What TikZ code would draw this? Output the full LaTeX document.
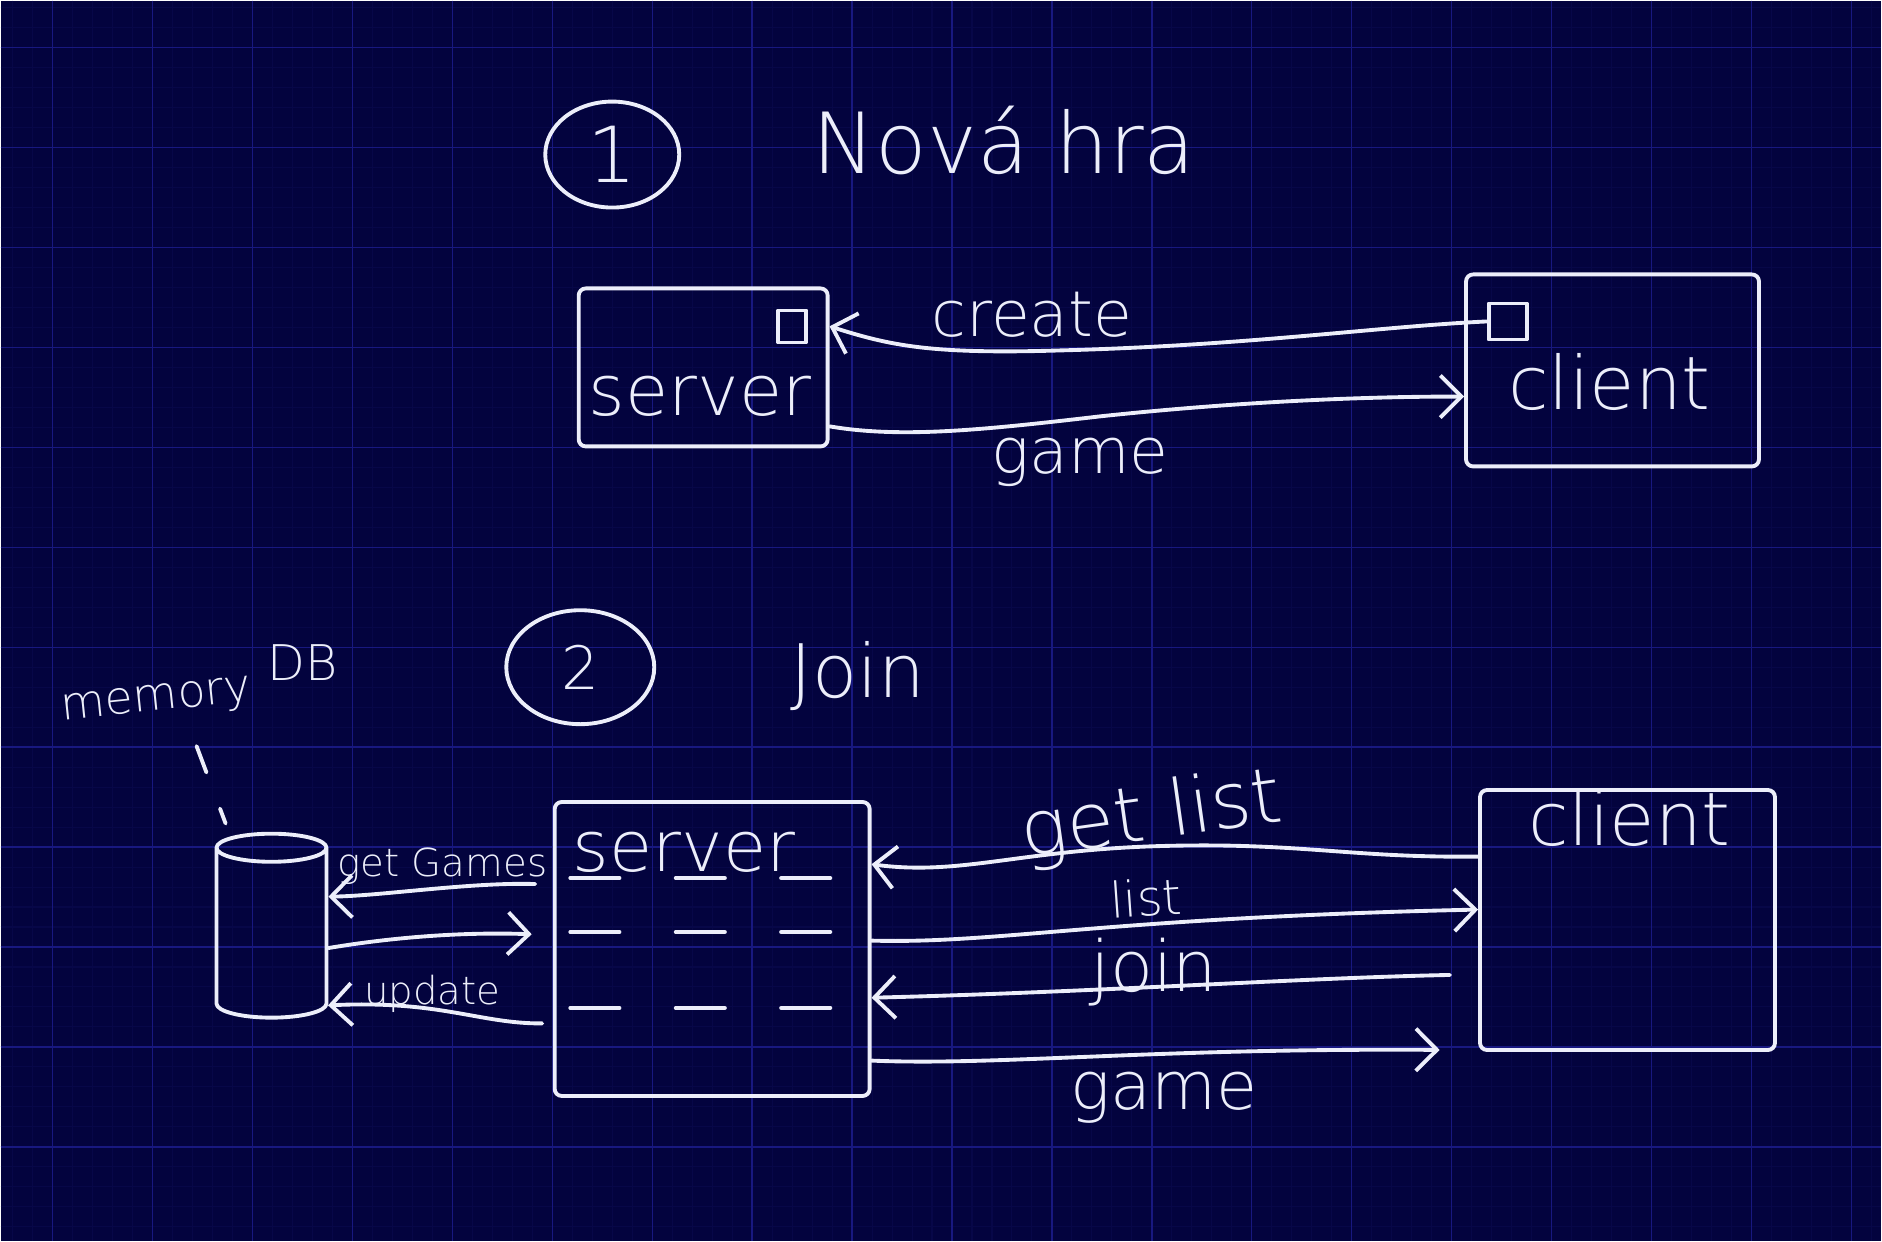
\documentclass[tikz,border=0pt]{standalone}
\usepackage{fontspec}
\setmainfont{DejaVu Sans ExtraLight}
\usetikzlibrary{arrows.meta,shapes.geometric}

\definecolor{board}{RGB}{3,3,62}
\definecolor{gridmajor}{RGB}{24,24,128}
\definecolor{gridminor}{RGB}{7,7,72}
\definecolor{chalk}{RGB}{236,238,250}

\tikzset{
  pen/.style={draw=chalk, line width=1.1pt, line cap=round, line join=round},
  box/.style={pen, rectangle, rounded corners=2pt},
  sq/.style={pen, rectangle, inner sep=0pt},
  lbl/.style={text=chalk, inner sep=0pt, font=\fontsize{#1pt}{#1pt}\selectfont},
  msg/.style={pen, -{Straight Barb[length=6pt,width=12pt]}},
  lane/.style={pen, dash pattern=on 14pt off 16pt},
}

\begin{document}
\begin{tikzpicture}[x=0.01cm, y=-0.01cm]

\fill[board] (0,0) rectangle (1882,1241);
\foreach \gx in {12,32,...,1872} \draw[gridminor, line width=0.3pt] (\gx,0) -- (\gx,1241);
\foreach \gy in {7,27,...,1227} \draw[gridminor, line width=0.3pt] (0,\gy) -- (1882,\gy);
\foreach \gx in {52,152,...,1852} \draw[gridmajor, line width=0.4pt] (\gx,0) -- (\gx,1241);
\foreach \gy in {47,147,...,1147} \draw[gridmajor, line width=0.4pt] (0,\gy) -- (1882,\gy);

\node[pen, ellipse, minimum width=1.34cm, minimum height=1.06cm, lbl=22] (v1) at (612,154) {1};
\node[lbl=24] (v2) at (1004,140) {Nová hra};

\node[box, minimum width=2.49cm, minimum height=1.58cm] (v3) at (703,367) {};
\node[sq, minimum width=0.28cm, minimum height=0.32cm] (v4) at (792,326) {};
\node[lbl=20] (v5) at (700,396) {server};

\node[box, minimum width=2.93cm, minimum height=1.92cm] (v6) at (1613,370) {};
\node[sq, minimum width=0.38cm, minimum height=0.36cm] (v7) at (1508,321) {};
\node[lbl=21] (v8) at (1610,382) {client};

\draw[msg] (v7.west) .. controls (1380,326) and (1250,345) .. (1060,350) .. controls (930,354) and (890,345) .. (v3.18);
\node[lbl=18] (v9) at (1032,314) {create};
\draw[msg] (v3.-25) .. controls (900,438) and (980,430) .. (1100,416) .. controls (1250,400) and (1380,396) .. (v6.190);
\node[lbl=18] (v10) at (1080,462) {game};

\node[pen, ellipse, minimum width=1.48cm, minimum height=1.14cm, lbl=17] (v11) at (580,667) {2};
\node[lbl=21] (v12) at (858,676) {Join};

\node[lbl=13, rotate=6] (v13) at (156,702) {memory};
\node[lbl=14] (v14) at (302,662) {DB};
\node[pen, cylinder, shape border rotate=90, aspect=1.2, minimum width=1.1cm, minimum height=1.84cm] (v15) at (271,938) {};
\coordinate (v16) at (196,746);
\draw[pen, dash pattern=on 8pt off 11pt, shorten >=4pt] (v16) -- (v15.112);

\node[box, minimum width=3.15cm, minimum height=2.94cm] (v17) at (712,949) {};
\node[lbl=20] (v18) at (684,852) {server};
\draw[lane] (570,878) -- (866,878);
\draw[lane] (570,932) -- (866,932);
\draw[lane] (570,1008) -- (866,1008);

\node[box, minimum width=2.95cm, minimum height=2.6cm] (v19) at (1628,920) {};
\node[lbl=21] (v20) at (1630,818) {client};

\draw[msg, shorten <=5pt] (v17.158) .. controls (470,882) and (380,896) .. (v15.36);
\node[lbl=11] (v21) at (442,866) {get Games};
\draw[msg, shorten >=6pt] (v15.-10) .. controls (400,936) and (470,932) .. (v17.175);
\draw[msg, shorten <=3pt] (v17.205) .. controls (480,1024) and (440,1000) .. (v15.-50);
\node[lbl=11] (v22) at (432,994) {update};

\draw[msg] (v19.157) .. controls (1350,858) and (1300,842) .. (1160,846) .. controls (1020,850) and (960,876) .. (v17.28);
\node[lbl=22, rotate=8] (v23) at (1152,818) {get list};
\draw[msg] (v17.3) .. controls (1000,944) and (1100,918) .. (v19.176);
\node[lbl=14, rotate=4] (v24) at (1146,898) {list};
\draw[msg, shorten <=8pt] (v19.200) .. controls (1300,978) and (1100,992) .. (v17.-17);
\node[lbl=20] (v25) at (1154,972) {join};
\coordinate (v26) at (1440,1050);
\draw[msg] (v17.-35) .. controls (1000,1066) and (1150,1048) .. (v26);
\node[lbl=19] (v27) at (1164,1098) {game};

\end{tikzpicture}
\end{document}
